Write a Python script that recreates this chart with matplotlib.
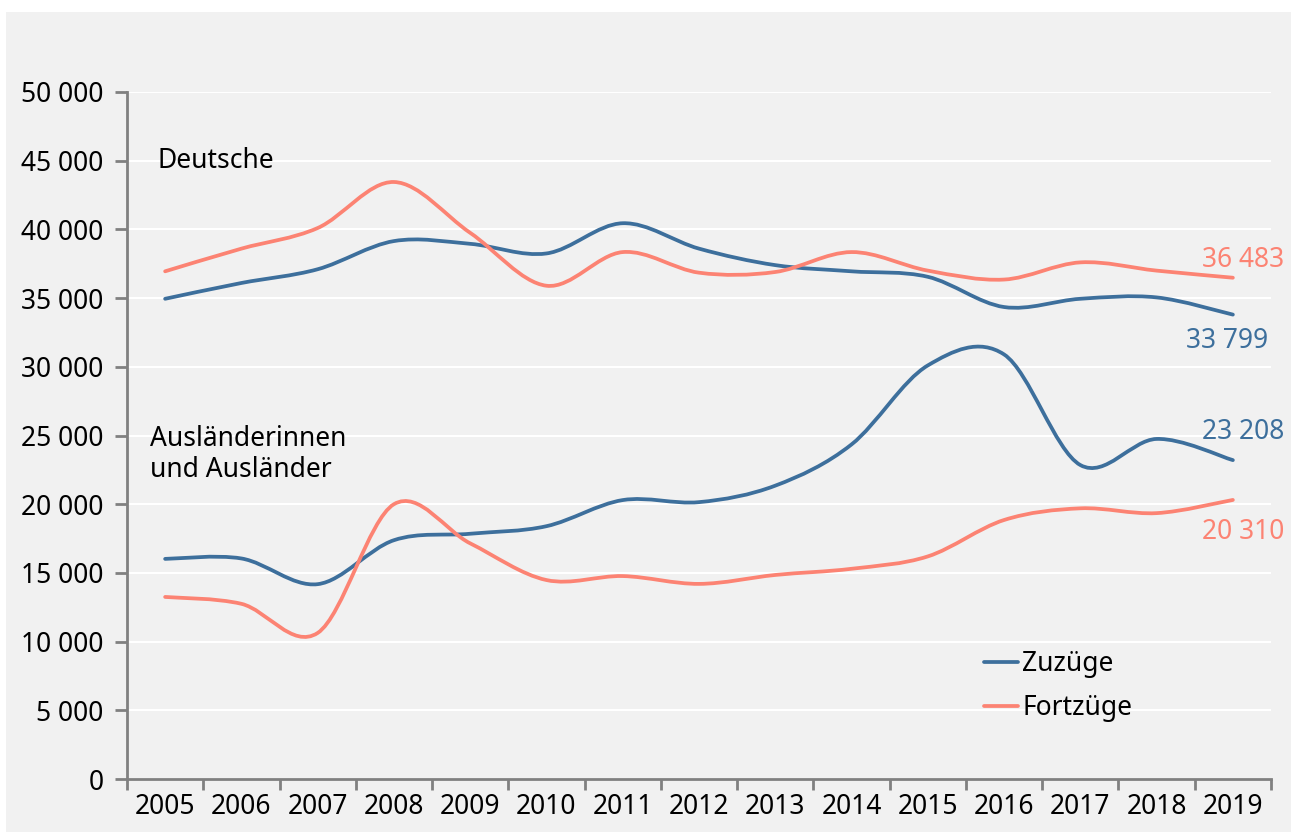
import numpy as np
import matplotlib.pyplot as plt
from matplotlib.path import Path
from matplotlib.patches import PathPatch, Rectangle
from matplotlib.lines import Line2D
from matplotlib.ticker import FuncFormatter

plt.rcParams['font.family'] = ['Noto Sans', 'DejaVu Sans']

# data
years = list(range(2005, 2020))
deutsche_zuzuege = [34950, 36100, 37100, 39150, 38950, 38250, 40450, 38600, 37400,
                    36950, 36550, 34350, 34950, 35050, 33799]
deutsche_fortzuege = [36950, 38600, 40100, 43450, 39750, 35900, 38350, 36850, 36900,
                      38350, 37000, 36350, 37600, 37000, 36483]
auslaender_zuzuege = [16020, 16050, 14180, 17380, 17850, 18400, 20300, 20150, 21350,
                      24350, 30100, 30900, 22850, 24750, 23208]
auslaender_fortzuege = [13250, 12750, 10630, 20000, 17150, 14480, 14770, 14200, 14850,
                        15300, 16200, 18850, 19700, 19350, 20310]
yticks = list(range(0, 50001, 5000))

blue = '#3d6f9c'
orange = '#fc8373'
bg = '#f1f1f1'


def smooth_path(xs, ys):
    """Catmull-Rom like bezier path through all points (Excel style smoothing)."""
    n = len(xs)
    pts = np.column_stack([xs, ys]).astype(float)
    verts = [pts[0]]
    codes = [Path.MOVETO]
    for i in range(n - 1):
        p0 = pts[max(i - 1, 0)]
        p1 = pts[i]
        p2 = pts[i + 1]
        p3 = pts[min(i + 2, n - 1)]
        c1 = p1 + (p2 - p0) / 6.0
        c2 = p2 - (p3 - p1) / 6.0
        verts += [c1, c2, p2]
        codes += [Path.CURVE4] * 3
    return Path(verts, codes)


fig = plt.figure(figsize=(12.91, 8.32), dpi=100)
fig.patch.set_facecolor('white')
# grey panel behind the chart
fig.patches.append(Rectangle((6 / 1291, 0), 1, 1 - 12 / 832, transform=fig.transFigure,
                             facecolor=bg, edgecolor='none', zorder=-10))

ax = fig.add_axes([127 / 1291, 53 / 832, (1271 - 127) / 1291, (779 - 92) / 832])
ax.set_facecolor('none')
ax.set_zorder(5)

x = np.arange(len(years))
for series, col in [(deutsche_zuzuege, blue), (deutsche_fortzuege, orange),
                    (auslaender_zuzuege, blue), (auslaender_fortzuege, orange)]:
    ax.add_patch(PathPatch(smooth_path(x, series), fill=False, edgecolor=col,
                           linewidth=2.7, capstyle='round', zorder=3))

ax.set_xlim(-0.5, len(years) - 0.5)
ax.set_ylim(0, 50000)

# y axis
ax.set_yticks(yticks)
ax.yaxis.set_major_formatter(FuncFormatter(lambda v, p: f'{int(v):,}'.replace(',', ' ')))
ax.grid(axis='y', color='white', linewidth=1.5, zorder=1)
ax.set_axisbelow(True)

# x axis: ticks between categories, labels centred
ax.set_xticks(np.arange(-0.5, len(years), 1.0))
ax.set_xticklabels([])
ax.set_xticks(x, minor=True)
ax.set_xticklabels([str(y) for y in years], minor=True)
ax.tick_params(axis='x', which='minor', length=0, pad=10, labelsize=19)
ax.tick_params(axis='x', which='major', length=8, width=2, color='#808080', direction='out')
ax.tick_params(axis='y', length=9, width=2, color='#808080', labelsize=19, pad=8)

for s in ['top', 'right']:
    ax.spines[s].set_visible(False)
for s in ['left', 'bottom']:
    ax.spines[s].set_color('#808080')
    ax.spines[s].set_linewidth(2)

# group labels
ax.text(-0.1, 45000, 'Deutsche', fontsize=19, va='center', ha='left')
ax.text(-0.2, 23600, 'Ausländerinnen\nund Ausländer', fontsize=19, va='center',
        ha='left', linespacing=1.15)

# end value labels
fmt = lambda v: f'{v:,}'.replace(',', ' ')
ax.text(14.67, deutsche_fortzuege[-1] + 250, fmt(deutsche_fortzuege[-1]), color=orange,
        fontsize=19, ha='right', va='bottom')
ax.text(14.46, deutsche_zuzuege[-1] - 900, fmt(deutsche_zuzuege[-1]), color=blue,
        fontsize=19, ha='right', va='top')
ax.text(14.67, auslaender_zuzuege[-1] + 1050, fmt(auslaender_zuzuege[-1]), color=blue,
        fontsize=19, ha='right', va='bottom')
ax.text(14.67, auslaender_fortzuege[-1] - 1350, fmt(auslaender_fortzuege[-1]), color=orange,
        fontsize=19, ha='right', va='top')

# legend
handles = [Line2D([], [], color=blue, linewidth=2.7, solid_capstyle='round'),
           Line2D([], [], color=orange, linewidth=2.7, solid_capstyle='round')]
ax.legend(handles, ['Zuzüge', 'Fortzüge'], loc='upper left', bbox_to_anchor=(0.74, 0.203),
          frameon=False, fontsize=19, handlelength=1.3, handletextpad=0.15,
          labelspacing=0.6, borderaxespad=0)

fig.savefig('out.png', dpi=100, facecolor=fig.get_facecolor())
